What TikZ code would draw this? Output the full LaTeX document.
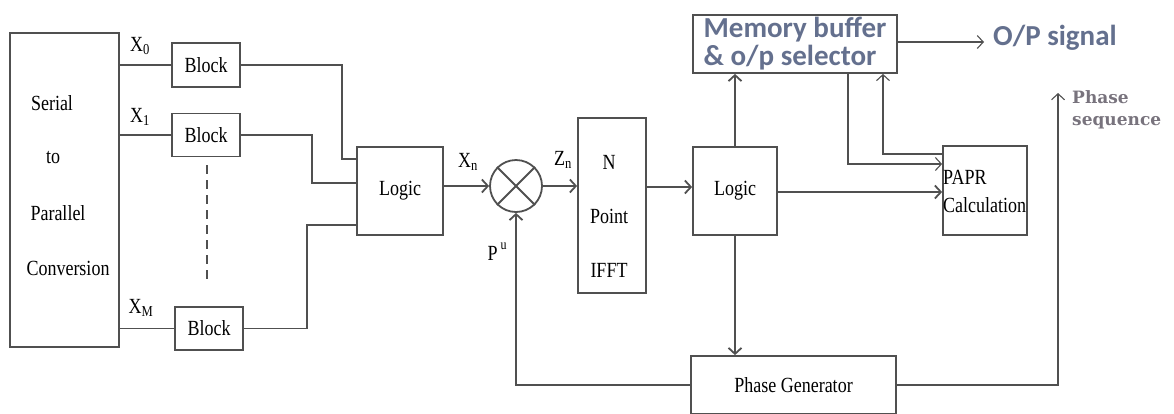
\documentclass[tikz,border=0pt]{standalone}
\usepackage{fontspec}
\usepackage{graphicx}
\setmainfont{Liberation Serif}
\newfontfamily\calfont{Carlito}
\newfontfamily\dvsfont{DejaVu Serif}
\usetikzlibrary{arrows.meta}
\definecolor{ln}{RGB}{80,80,80}
\definecolor{bluetxt}{RGB}{100,112,142}
\definecolor{greytxt}{RGB}{120,115,125}
\newcommand{\tx}[1]{\scalebox{1}[1.2]{#1}}
\tikzset{
  box/.style={draw=ln, line width=1.8pt, inner sep=0pt, font=\fontsize{18}{20}\selectfont},
  wire/.style={draw=ln, line width=1.8pt},
  thinwire/.style={draw=ln, line width=1.1pt},
  arr/.style={-{Straight Barb[length=6pt,width=13pt]}},
  lbl/.style={inner sep=0pt, font=\fontsize{18}{20}\selectfont},
}
\begin{document}
\begin{tikzpicture}[x=1pt,y=-1pt]
\useasboundingbox (0,0) rectangle (1174,413);
% serial to parallel
\node[box, minimum width=109pt, minimum height=314pt] (ser) at (64.5,190) {};
\node[lbl] (s1) at (52,103) {\tx{Serial}};
\node[lbl] (s2) at (53,158) {\tx{to}};
\node[lbl] (s3) at (58,213) {\tx{Parallel}};
\node[lbl] (s4) at (68,268) {\tx{Conversion}};
% blocks
\node[box, minimum width=68pt, minimum height=44pt] (b0) at (206,65) {\tx{Block}};
\node[box, minimum width=68pt, minimum height=43pt] (b1) at (206,135) {\tx{Block}};
\node[box, minimum width=68pt, minimum height=43pt] (bM) at (209,328.5) {\tx{Block}};
\draw[wire, dash pattern=on 9pt off 6pt] (207,165) -- (207,284);
\node[lbl] (x0) at (140,46) {\tx{X\textsubscript{0}}};
\node[lbl] (x1) at (140,117) {\tx{X\textsubscript{1}}};
\node[lbl] (xm) at (141,308) {\tx{X\textsubscript{M}}};
\draw[wire] (ser.east |- b0.west) -- (b0.west);
\draw[wire] (ser.east |- b1.west) -- (b1.west);
\draw[wire] (ser.east |- bM.west) -- (bM.west);
% logic 1
\node[box, minimum width=86pt, minimum height=88pt] (lg1) at (400,191) {\tx{Logic}};
\draw[wire] (b0.east) -- (342,65) -- (342,159) -- (lg1.west |- 0,159);
\draw[wire] (b1.east) -- (312,135) -- (312,183) -- (lg1.west |- 0,183);
\draw[wire] (bM.east) -- (307,328.5) -- (307,225) -- (lg1.west |- 0,225);
% multiplier
\node[draw=ln, line width=1.8pt, circle, minimum size=52pt, inner sep=0pt] (mul) at (516,186) {};
\draw[wire] (mul.north west) -- (mul.south east);
\draw[wire] (mul.north east) -- (mul.south west);
\draw[wire, arr] (lg1.east |- mul.west) -- (mul.west);
\node[lbl] (xn) at (468,162) {\tx{X\textsubscript{n}}};
\node[lbl] (zn) at (563,160) {\tx{Z\textsubscript{n}}};
\node[lbl] (pu) at (497,252) {\tx{P\,\raisebox{1.1ex}{\fontsize{12}{12}\selectfont u}}};
% IFFT
\node[box, minimum width=68pt, minimum height=175pt] (ifft) at (612,205.5) {};
\node[lbl] (t1) at (609,162) {\tx{N}};
\node[lbl] (t2) at (609,216) {\tx{Point}};
\node[lbl] (t3) at (609,270) {\tx{IFFT}};
\draw[wire, arr] (mul.east) -- (ifft.west |- mul.east);
% logic 2
\node[box, minimum width=84pt, minimum height=88pt] (lg2) at (735,191) {\tx{Logic}};
\draw[wire, arr] (ifft.east |- 0,187) -- (lg2.west |- 0,187);
% memory
\node[box, minimum width=204pt, minimum height=58pt, align=left, text=bluetxt,
  font=\calfont\bfseries\fontsize{29}{28}\selectfont] (mem) at (795,44)
  {Memory buffer\\\& o/p selector};
\draw[wire, arr] (lg2.north) -- (lg2.north |- mem.south);
% PAPR
\node[box, minimum width=84pt, minimum height=89pt] (papr) at (985,190.5) {};
\node[lbl, anchor=west] (pt1) at (943,177) {\tx{PAPR}};
\node[lbl, anchor=west] (pt2) at (943,205) {\tx{Calculation}};
\draw[thinwire, arr] (mem.south -| 848,0) |- (papr.west |- 0,164);
\draw[thinwire, arr] (papr.west |- 0,154) -| (mem.south -| 883,0);
\draw[wire, arr] (lg2.east |- 0,192) -- (papr.west |- 0,192);
% output
\node[inner sep=0pt, anchor=west, text=bluetxt, font=\calfont\bfseries\fontsize{29}{30}\selectfont] (op) at (993,38) {O/P signal};
\coordinate (opin) at (984,42);
\draw[thinwire, arr] (mem.east |- opin) -- (opin);
% phase generator
\node[box, minimum width=205pt, minimum height=58pt] (pg) at (793.5,385) {\tx{Phase Generator}};
\draw[wire, arr] (lg2.south) -- (lg2.south |- pg.north);
\draw[wire, arr] (pg.west) -| (mul.south);
\coordinate (ps) at (1058,93);
\draw[thinwire, arr] (pg.east) -| (ps);
\node[inner sep=0pt, anchor=north west, align=left, text=greytxt,
  font=\dvsfont\bfseries\fontsize{17}{22}\selectfont] (pseq) at (1072,90) {Phase\\sequence};
\end{tikzpicture}
\end{document}
